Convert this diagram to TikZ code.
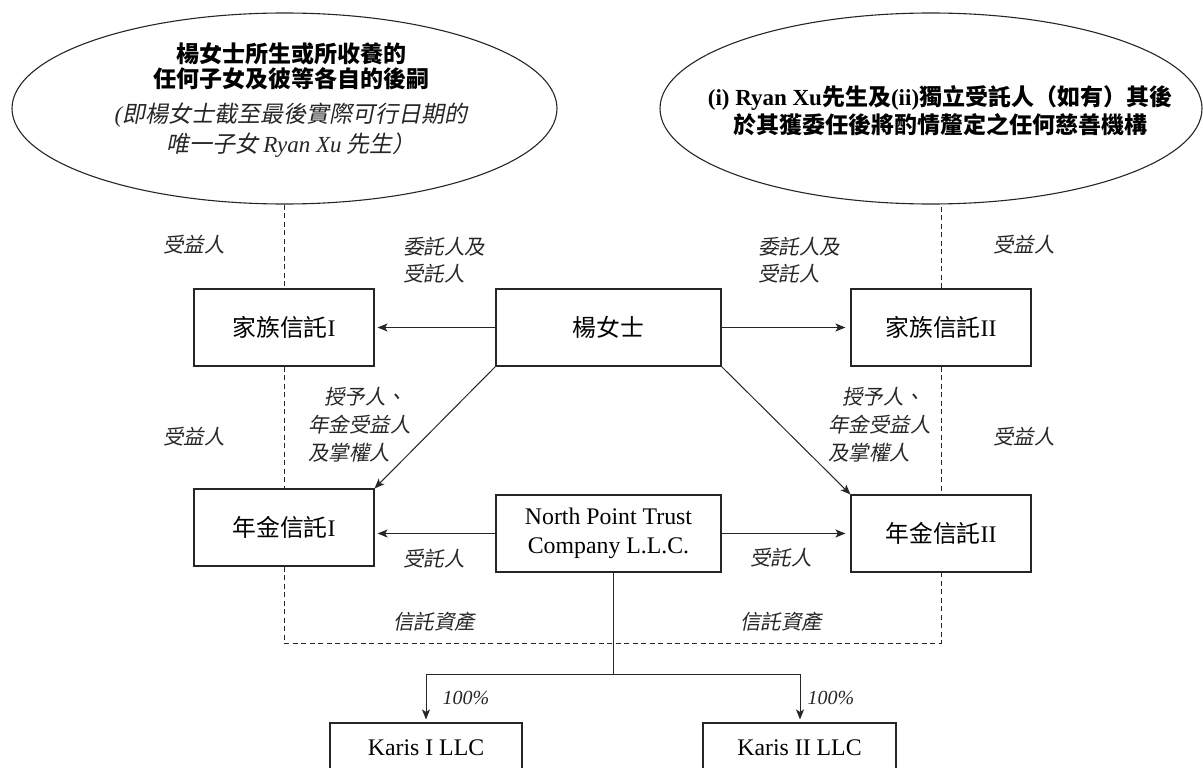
\documentclass[tikz,border=0pt]{standalone}
\usepackage{fontspec}
\setmainfont{Liberation Serif}
\newfontfamily\cjk{Noto Sans CJK TC}
\newfontfamily\cjki{Noto Sans CJK TC}[FakeSlant=0.2]
\usetikzlibrary{arrows.meta,shapes.geometric}
\begin{document}
\begin{tikzpicture}[x=1pt,y=-1pt,
  box/.style={draw=black!85, line width=1.1pt, rectangle, inner sep=0pt, font=\fontsize{23.8}{29}\selectfont, align=center},
  lab/.style={inner sep=0pt, font=\cjki\fontsize{20.5}{27}\selectfont, text=black!85, align=left},
  conn/.style={draw=black!85, line width=1pt},
  arr/.style={conn, -{Stealth[length=10pt,width=8pt,inset=2.5pt]}},
  dsh/.style={draw=black!85, line width=0.9pt, dash pattern=on 5pt off 3.5pt},
  ell/.style={draw=black!85, line width=1.1pt, ellipse, inner sep=0pt}
]
\useasboundingbox (0,0) rectangle (1203,768);
\clip (0,0) rectangle (1203,768);

% ellipses
\node[ell, minimum width=545pt, minimum height=191pt] (ellL) at (284.5,108.5) {};
\node[ell, minimum width=542pt, minimum height=191pt] (ellR) at (931,108.5) {};
\node[inner sep=0pt, align=center, font=\cjk\bfseries\fontsize{23}{25}\selectfont] (tL1) at (291,66) {楊女士所生或所收養的\\任何子女及彼等各自的後嗣};
\node[inner sep=0pt, align=center, font=\cjki\fontsize{23}{30}\selectfont, text=black!85] (tL2) at (291,130) {{\rmfamily\itshape (}即楊女士截至最後實際可行日期的\\唯一子女 {\rmfamily\itshape Ryan Xu} 先生）};
\node[inner sep=0pt, align=center, font=\bfseries\fontsize{23}{28}\selectfont] (tR) at (940,111) {(i) Ryan Xu{\cjk 先生及}(ii){\cjk 獨立受託人（如有）其後}\\{\cjk 於其獲委任後將酌情釐定之任何慈善機構}};

% boxes
\node[box, minimum width=180pt, minimum height=77pt] (fam1) at (284,327.5) {{\cjk 家族信託}I};
\node[box, minimum width=225pt, minimum height=77pt] (yang) at (608.5,327.5) {{\cjk 楊女士}};
\node[box, minimum width=180pt, minimum height=77pt] (fam2) at (941,327.5) {{\cjk 家族信託}II};
\node[box, minimum width=180pt, minimum height=77pt] (ann1) at (284,527.5) {{\cjk 年金信託}I};
\node[box, minimum width=225pt, minimum height=77pt] (np) at (608.5,533.5) {North Point Trust\\Company L.L.C.};
\node[box, minimum width=180pt, minimum height=77pt] (ann2) at (941,533.5) {{\cjk 年金信託}II};
\node[box, minimum width=192pt, minimum height=50pt] (k1) at (426,748) {Karis I LLC};
\node[box, minimum width=193pt, minimum height=50pt] (k2) at (799.5,748) {Karis II LLC};

% labels
\node[lab] (lb1) at (194,245) {受益人};
\node[lab] (lb2) at (194,437) {受益人};
\node[lab] (lb3) at (1024,245) {受益人};
\node[lab] (lb4) at (1024,437) {受益人};
\node[lab, anchor=west] (st1) at (403,260.5) {委託人及\\受託人};
\node[lab, anchor=west] (st2) at (758,260.5) {委託人及\\受託人};
\node[lab, anchor=west, font=\cjki\fontsize{20.5}{28}\selectfont] (gr1) at (308,425) {\hspace*{16pt}授予人、\\年金受益人\\及掌權人};
\node[lab, anchor=west, font=\cjki\fontsize{20.5}{28}\selectfont] (gr2) at (828,425) {\hspace*{14pt}授予人、\\年金受益人\\及掌權人};
\node[lab] (tr1) at (434,559) {受託人};
\node[lab] (tr2) at (781,558) {受託人};
\node[lab] (as1) at (434,622) {信託資產};
\node[lab] (as2) at (781,622) {信託資產};
\node[lab, font=\rmfamily\itshape\fontsize{20}{24}\selectfont] (p1) at (466,698) {100\%};
\node[lab, font=\rmfamily\itshape\fontsize{20}{24}\selectfont] (p2) at (831,698) {100\%};

% solid connectors
\draw[arr, shorten >=3pt] (yang.west) -- (fam1.east);
\draw[arr, shorten >=5pt] (yang.east) -- (fam2.west);
\draw[arr] (yang.south west) -- (ann1.north east);
\draw[arr] (yang.south east) -- (ann2.north west);
\draw[arr, shorten >=3pt] (np.west) -- (np.west -| ann1.east);
\draw[arr, shorten >=5pt] (np.east) -- (np.east -| ann2.west);
\coordinate (split) at (613,674);
\coordinate (kl) at (426,674);
\coordinate (kr) at (800,674);
\draw[conn] (np.south -| split) -- (split);
\draw[conn] (kl) -- (kr);
\draw[arr, shorten >=3pt] (kl) -- (k1.north -| kl);
\draw[arr, shorten >=3pt] (kr) -- (k2.north -| kr);

% dashed connectors
\coordinate (dbot) at (613,643);
\draw[dsh] (fam1.north |- ellL.south) -- (fam1.north);
\draw[dsh] (fam1.south) -- (ann1.north);
\draw[dsh] (ann1.south) |- (dbot) -| (ann2.south);
\draw[dsh] (fam2.south) -- (ann2.north);
\draw[dsh] (fam2.north) -- (fam2.north |- ellR.south);
\end{tikzpicture}
\end{document}
